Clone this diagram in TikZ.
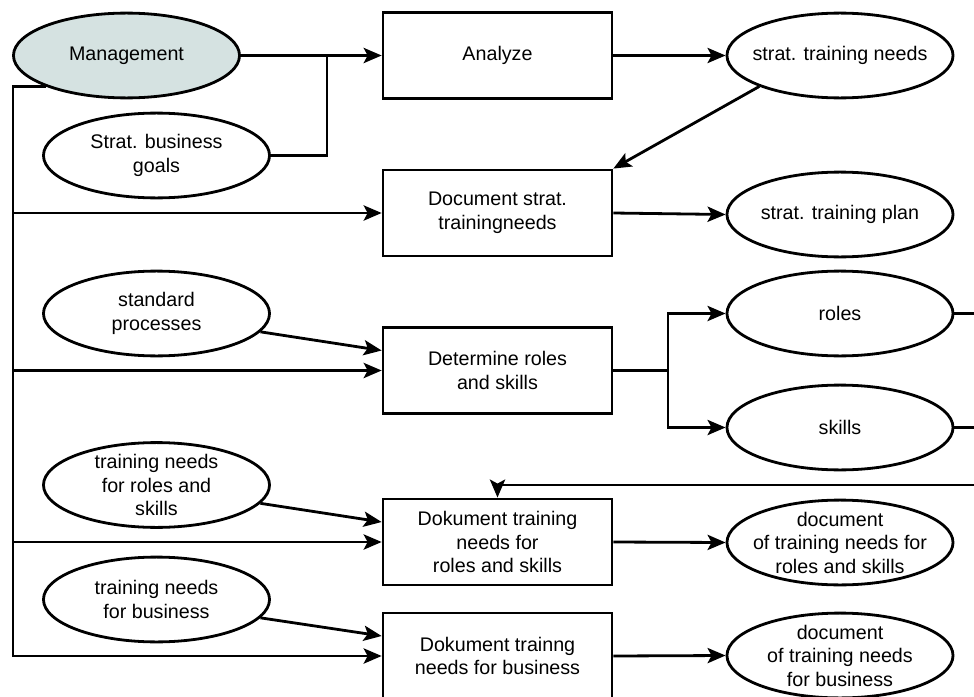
\documentclass[tikz,border=0pt]{standalone}
\usepackage{fontspec}
\setmainfont{Liberation Sans}
\usepackage{tikz}
\usetikzlibrary{arrows.meta,shapes.geometric}
\definecolor{mgmtfill}{RGB}{213,226,225}
\tikzset{
	box/.style={draw, line width=0.7mm, rectangle, minimum width=5.72cm, minimum height=2.15cm, inner sep=0pt, align=center},
	oval/.style={draw, line width=0.7mm, ellipse, minimum width=5.65cm, minimum height=2.12cm, inner sep=0pt},
	otext/.style={label={[align=center]center:{#1}}},
	wire/.style={line width=0.7mm},
	arr/.style={line width=0.7mm, -{Stealth[length=0.45cm, width=0.38cm, inset=0.1cm]}},
}

\begin{document}
\begin{tikzpicture}[x=0.025cm, y=-0.025cm, font=\fontsize{14}{16.7}\selectfont]
		%%%%% START %%%%%
		\useasboundingbox (0, 0) rectangle (974, 697);
		\clip (0, 0) rectangle (974, 697);
		
		% middle column: the steps
		\node[box] (analyze) at (497.5, 55.5) {Analyze};
		\node[box] (docstrat) at (497.5, 213) {Document strat.\\trainingneeds};
		\node[box] (roleskill) at (497.5, 370.5) {Determine roles\\and skills};
		\node[box] (docroles) at (497.5, 542) {Dokument training\\needs for\\roles and skills};
		\node[box] (docbiz) at (497.5, 656) {Dokument trainng\\needs for business};
		
		% left column: inputs
		\node[oval, fill=mgmtfill, otext=Management] (mgmt) at (126.5, 55.5) {};
		\node[oval, otext={Strat. business\\goals}] (goals) at (156.5, 155.5) {};
		\node[oval, otext={standard\\processes}] (stdproc) at (156.5, 313.5) {};
		\node[oval, otext={training needs\\for roles and\\skills}] (needroles) at (156.5, 485) {};
		\node[oval, otext={training needs\\for business}] (needbiz) at (156.5, 599.5) {};
		
		% right column: results
		\node[oval, otext={strat. training needs}] (stratneeds) at (840, 55.5) {};
		\node[oval, otext={strat. training plan}] (stratplan) at (840, 214.5) {};
		\node[oval, otext=roles] (roles) at (840, 313.5) {};
		\node[oval, otext=skills] (skills) at (840, 427.5) {};
		\node[oval, otext={document\\of training needs for\\roles and skills}] (outroles) at (840, 542.5) {};
		\node[oval, otext={document\\of training needs\\for business}] (outbiz) at (840, 655.5) {};
		
		% helper points
		\coordinate (join) at (327, 55.5);
		\coordinate (trunk) at (13, 657);
		\coordinate (fork) at (668, 370.5);
		\coordinate (loop) at (990, 485);
		
		% management and goals into analyze
		\draw[arr] (mgmt.east) -- (analyze.west);
		\draw[wire] (goals.east) -| (join);
		
		% management trunk down the left side
		\draw[wire] (mgmt.201) -| (trunk);
		\draw[arr] (trunk |- docstrat.west) -- (docstrat.west);
		\draw[arr] (trunk |- roleskill.west) -- (roleskill.west);
		\draw[arr] (trunk |- docroles.west) -- (docroles.west);
		\draw[arr] (trunk |- docbiz.west) -- (docbiz.west);
		
		% side inputs
		\draw[arr] (stdproc.350) -- ([yshift=0.5cm]roleskill.west);
		\draw[arr] (needroles.350) -- ([yshift=0.5cm]docroles.west);
		\draw[arr] (needbiz.350) -- ([yshift=0.5cm]docbiz.west);
		
		% outputs
		\draw[arr] (analyze.east) -- (stratneeds.west);
		\draw[arr] (stratneeds.201) -- (docstrat.north east);
		\draw[arr] (docstrat.east) -- (stratplan.west);
		\draw[wire] (roleskill.east) -- (fork);
		\draw[arr] (fork) |- (roles.west);
		\draw[arr] (fork) |- (skills.west);
		\draw[arr] (docroles.east) -- (outroles.west);
		\draw[arr] (docbiz.east) -- (outbiz.west);
		
		% roles and skills feed back
		\draw[wire] (roles.east) -| (loop);
		\draw[wire] (skills.east) -| (loop);
		\draw[arr] (loop) -| (docroles.north);
		
		%%%%% END %%%%%
	\end{tikzpicture}
\end{document}
